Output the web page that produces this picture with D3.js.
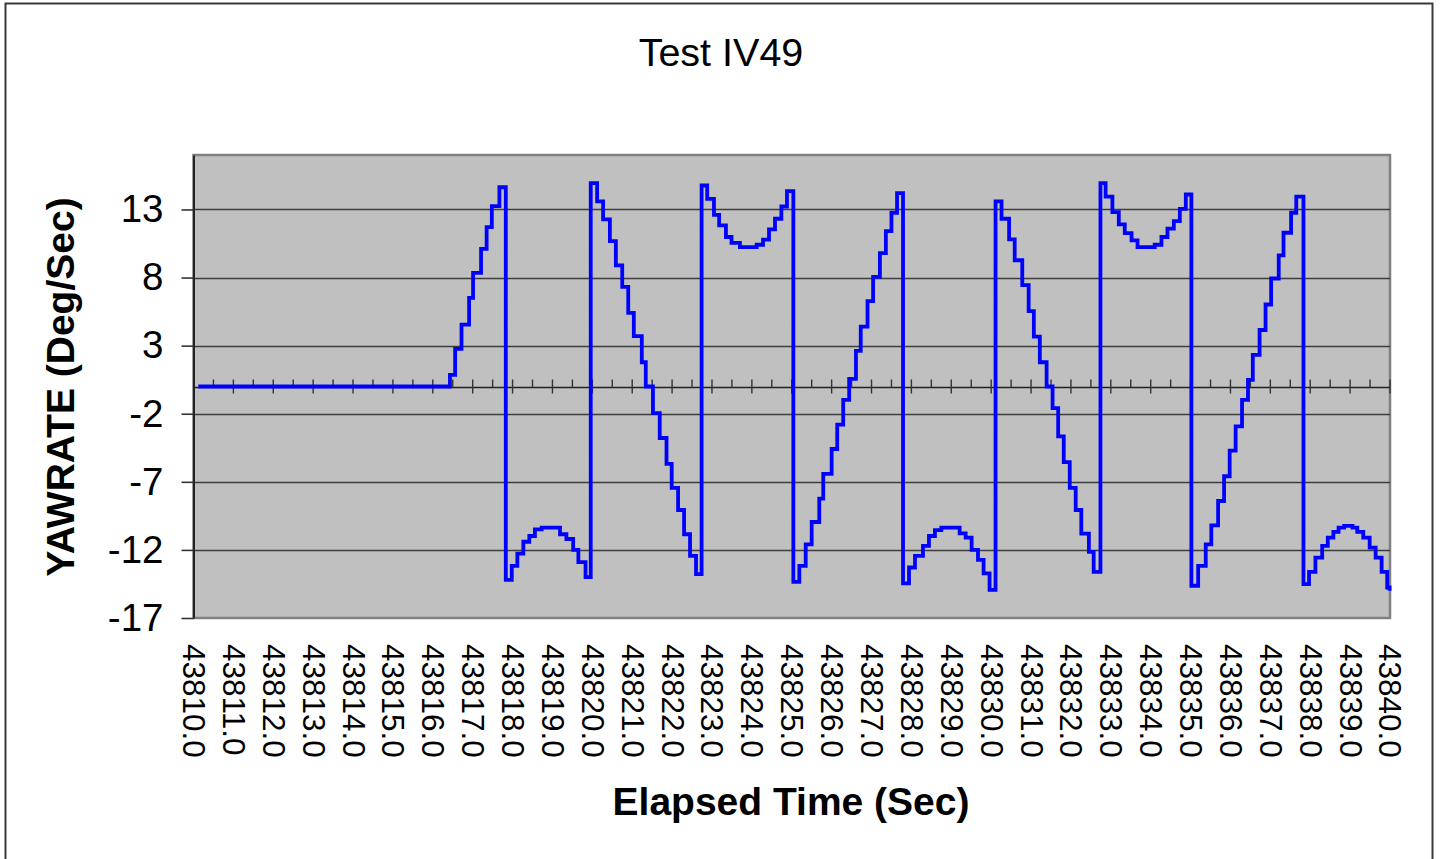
<!DOCTYPE html>
<html><head><meta charset="utf-8">
<script src="https://cdn.jsdelivr.net/npm/d3@7"></script>
<style>html,body{margin:0;padding:0;background:#fff;} svg{display:block;font-family:"Liberation Sans",Arial,sans-serif;}</style>
</head><body><svg id="chart" width="1442" height="859"></svg>
<script>
const chartTitle = "Test IV49";
const xAxisTitle = "Elapsed Time (Sec)";
const yAxisTitle = "YAWRATE (Deg/Sec)";
const yTickValues = [-17, -12, -7, -2, 3, 8, 13];
const xTickValues = [43810, 43811, 43812, 43813, 43814, 43815, 43816, 43817, 43818, 43819,
  43820, 43821, 43822, 43823, 43824, 43825, 43826, 43827, 43828, 43829,
  43830, 43831, 43832, 43833, 43834, 43835, 43836, 43837, 43838, 43839, 43840];
const xTickLabels = ["43810.0","43811.0","43812.0","43813.0","43814.0","43815.0","43816.0","43817.0","43818.0","43819.0",
  "43820.0","43821.0","43822.0","43823.0","43824.0","43825.0","43826.0","43827.0","43828.0","43829.0",
  "43830.0","43831.0","43832.0","43833.0","43834.0","43835.0","43836.0","43837.0","43838.0","43839.0","43840.0"];

// step-change points of the YAWRATE trace (time, value held until next time)
const elapsed = [
  43810.12, 43816.43, 43816.56, 43816.72, 43816.91, 43817.01, 43817.21, 43817.35, 43817.48, 43817.67,
  43817.83, 43817.98, 43818.12, 43818.27, 43818.42, 43818.56, 43818.73, 43819.19, 43819.35, 43819.52,
  43819.65, 43819.83, 43819.96, 43820.12, 43820.27, 43820.44, 43820.59, 43820.75, 43820.90, 43821.04,
  43821.24, 43821.34, 43821.52, 43821.69, 43821.86, 43821.99, 43822.15, 43822.30, 43822.45, 43822.60,
  43822.74, 43822.88, 43823.05, 43823.18, 43823.35, 43823.49, 43823.70, 43824.12, 43824.28, 43824.43,
  43824.58, 43824.74, 43824.88, 43825.04, 43825.19, 43825.35, 43825.50, 43825.69, 43825.79, 43826.00,
  43826.14, 43826.29, 43826.44, 43826.61, 43826.73, 43826.90, 43827.04, 43827.21, 43827.36, 43827.50,
  43827.64, 43827.79, 43827.94, 43828.09, 43828.29, 43828.44, 43828.59, 43828.75, 43829.21, 43829.36,
  43829.51, 43829.67, 43829.81, 43829.96, 43830.11, 43830.26, 43830.45, 43830.59, 43830.78, 43830.94,
  43831.07, 43831.22, 43831.39, 43831.54, 43831.68, 43831.82, 43831.97, 43832.12, 43832.26, 43832.45,
  43832.57, 43832.74, 43832.87, 43833.04, 43833.20, 43833.35, 43833.52, 43833.67, 43834.10, 43834.27,
  43834.42, 43834.58, 43834.73, 43834.88, 43835.02, 43835.19, 43835.38, 43835.52, 43835.69, 43835.84,
  43835.98, 43836.13, 43836.29, 43836.44, 43836.56, 43836.73, 43836.88, 43837.02, 43837.21, 43837.33,
  43837.52, 43837.65, 43837.83, 43837.97, 43838.13, 43838.30, 43838.44, 43838.58, 43838.71, 43838.85,
  43839.06, 43839.18, 43839.33, 43839.49, 43839.64, 43839.79, 43839.93, 43839.99];
const yawrate = [
  0, 0.85, 2.76, 4.54, 6.51, 8.34, 10.1, 11.7, 13.24, 14.63,
  -14.2, -13.17, -12.27, -11.4, -10.98, -10.49, -10.37, -10.85, -11.2, -12.0,
  -12.9, -14.0, 14.93, 13.6, 12.27, 10.68, 8.9, 7.32, 5.41, 3.7,
  1.78, 0, -1.95, -3.78, -5.68, -7.44, -9.07, -10.85, -12.44, -13.78,
  14.76, 13.78, 12.6, 11.83, 10.98, 10.54, 10.24, 10.41, 10.78, 11.54,
  12.32, 13.22, 14.34, -14.34, -13.17, -11.59, -9.95, -8.24, -6.41, -4.59,
  -2.8, -0.98, 0.56, 2.61, 4.39, 6.27, 8.05, 9.8, 11.41, 12.76,
  14.2, -14.46, -13.29, -12.44, -11.71, -10.98, -10.54, -10.37, -10.78, -11.1,
  -12.0, -12.73, -13.73, -14.93, 13.6, 12.32, 10.8, 9.27, 7.44, 5.54,
  3.66, 1.78, 0, -1.59, -3.66, -5.56, -7.44, -9.07, -10.8, -12.15,
  -13.61, 14.93, 13.95, 12.8, 11.9, 11.27, 10.73, 10.24, 10.41, 10.98,
  11.59, 12.15, 13.05, 14.1, -14.63, -13.17, -11.59, -10.2, -8.41, -6.59,
  -4.71, -2.93, -0.98, 0.49, 2.32, 4.15, 6.02, 7.93, 9.63, 11.29,
  12.76, 13.95, -14.51, -13.61, -12.56, -11.71, -11.1, -10.68, -10.37, -10.24,
  -10.37, -10.68, -11.1, -11.83, -12.56, -13.61, -14.76, -15.0];

const svg = d3.select("#chart");
const plot = {left: 193.5, right: 1390, top: 155, bottom: 618};

const x = d3.scaleLinear().domain([43810, 43840]).range([plot.left, plot.right]);
const y = d3.scaleLinear().domain([-17, 17]).range([plot.bottom, plot.top]);

// outer chart border
svg.append("rect").attr("x", 5.5).attr("y", 3.5).attr("width", 1427).attr("height", 870)
  .attr("fill", "#fff").attr("stroke", "#3a3a3a").attr("stroke-width", 2);

// plot area
svg.append("rect").attr("x", plot.left).attr("y", plot.top)
  .attr("width", plot.right - plot.left).attr("height", plot.bottom - plot.top)
  .attr("fill", "#c0c0c0").attr("stroke", "#808080").attr("stroke-width", 2.5);

// gridlines
svg.append("g").selectAll("line").data(yTickValues.filter(v => v > -17)).join("line")
  .attr("x1", plot.left).attr("x2", plot.right)
  .attr("y1", d => Math.round(y(d)) + 0.5).attr("y2", d => Math.round(y(d)) + 0.5)
  .attr("stroke", "#3c3c3c").attr("stroke-width", 1.6);

// y axis
const yAxis = d3.axisLeft(y).tickValues(yTickValues).tickSizeInner(12).tickSizeOuter(0)
  .tickPadding(18).tickFormat(d3.format("d"));
const gy = svg.append("g").attr("transform", `translate(${plot.left},0)`).call(yAxis);
gy.select(".domain").attr("stroke", "#222").attr("stroke-width", 2);
gy.selectAll(".tick line").attr("stroke", "#333").attr("stroke-width", 1.6);
gy.selectAll(".tick text").attr("font-size", 38.5).attr("fill", "#000")
  .attr("font-family", "'Liberation Sans', Arial, sans-serif").text(d => d < 0 ? "-" + Math.abs(d) : d);

// zero-crossing category axis line with tick marks
const y0 = Math.round(y(0)) + 0.5;
svg.append("line").attr("x1", plot.left).attr("x2", plot.right).attr("y1", y0).attr("y2", y0)
  .attr("stroke", "#222").attr("stroke-width", 1.6);
const halfTicks = d3.range(0, xTickValues.length * 2 - 1).map(i => xTickValues[0] + i / 2);
svg.append("g").selectAll("line").data(halfTicks.slice(1)).join("line")
  .attr("x1", d => x(d)).attr("x2", d => x(d))
  .attr("y1", y0 - 8)
  .attr("y2", (d, i) => (i % 2 === 1) ? y0 + 6 : y0)
  .attr("stroke", "#333").attr("stroke-width", 1.4);

// x tick labels (rotated) via axis
const xAxis = d3.axisBottom(x).tickValues(xTickValues).tickSize(0).tickFormat((d, i) => xTickLabels[i]);
const gx = svg.append("g").attr("transform", `translate(0,${plot.bottom})`).call(xAxis);
gx.select(".domain").remove();
gx.selectAll(".tick text")
  .attr("font-size", 31.5).attr("fill", "#000")
  .attr("font-family", "'Liberation Sans', Arial, sans-serif")
  .attr("text-anchor", "start")
  .attr("transform", "translate(0,26) rotate(90)")
  .attr("x", 0).attr("y", 0).attr("dy", "0.35em");

// line
const pts = elapsed.map((t, i) => ({t, v: yawrate[i]}));
const line = d3.line().x(d => x(d.t)).y(d => y(d.v)).curve(d3.curveStepAfter);
svg.append("path").datum(pts).attr("d", line)
  .attr("fill", "none").attr("stroke", "#0000ff").attr("stroke-width", 3.8)
  .attr("stroke-linejoin", "miter");

// titles
svg.append("text").attr("x", 721).attr("y", 66).attr("text-anchor", "middle")
  .attr("font-size", 39.5).attr("fill", "#000").text(chartTitle);
svg.append("text").attr("x", 791).attr("y", 815).attr("text-anchor", "middle")
  .attr("font-size", 39).attr("font-weight", "bold").attr("fill", "#000").text(xAxisTitle);
svg.append("text").attr("transform", "translate(74,387) rotate(-90)").attr("text-anchor", "middle")
  .attr("font-size", 39).attr("font-weight", "bold").attr("fill", "#000").text(yAxisTitle);
</script>
</body></html>
